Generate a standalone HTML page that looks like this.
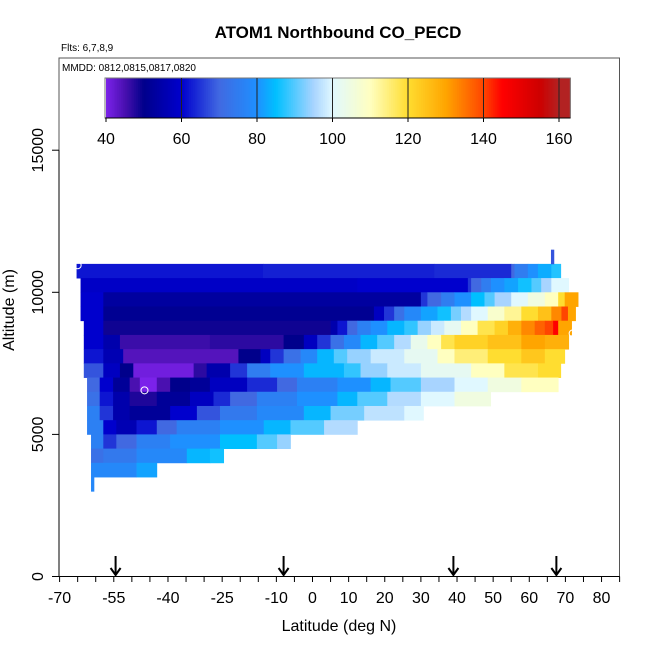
<!DOCTYPE html>
<html><head><meta charset="utf-8"><style>
body{margin:0;background:#fff;}
svg{display:block;font-family:"Liberation Sans",Arial,sans-serif;}
</style></head><body>
<svg id="chart" width="650" height="650" viewBox="0 0 650 650" xmlns="http://www.w3.org/2000/svg">
<rect width="650" height="650" fill="#fff"/>
<text x="338" y="38" text-anchor="middle" font-size="17" font-weight="bold">ATOM1 Northbound CO_PECD</text>
<text x="61" y="51" font-size="10">Flts: 6,7,8,9</text>
<g id="cells"></g>
<g id="pts"></g>
<rect x="59" y="58" width="560.5" height="518.5" fill="none" stroke="#555" stroke-width="1"/>
<text x="62" y="71" font-size="10">MMDD: 0812,0815,0817,0820</text>
<g id="cbar"></g>
<g id="axes"></g>
<text x="339" y="631" text-anchor="middle" font-size="16">Latitude (deg N)</text>
<text transform="translate(14,310) rotate(-90)" text-anchor="middle" font-size="16">Altitude (m)</text>
</svg>
<script>
// ---- data ----
const rowTops = [11000,10500,10000,9500,9000,8500,8000,7500,7000,6500,6000,5500,5000,4500,4000,3500,11500];
const rowBreaks = [
 [-65.3,-13.7,33.7,55.0,55.9,59.6,62.4,66.1,68.7],
 [-64.2,12.4,43.0,43.9,46.7,49.4,53.1,56.9,60.6,63.3,66.1,70.9],
 [-64.2,-57.9,30.0,31.8,35.6,39.3,43.9,47.6,50.4,55.0,59.6,64.3,68.0,69.8,73.5],
 [-64.2,-57.9,17.0,19.8,22.6,25.4,30.0,34.6,38.3,41.1,43.9,48.5,53.1,57.8,62.4,66.1,68.9,70.7,72.8],
 [-63.3,-57.9,5.0,6.9,9.6,12.4,16.1,20.7,25.4,29.1,32.8,36.5,41.1,45.7,50.4,54.1,57.8,61.5,64.3,66.6,68.0,71.7],
 [-63.3,-57.9,-53.3,-28.4,-8.0,-2.4,1.3,5.0,8.7,13.3,17.9,22.6,27.2,31.8,35.6,39.3,48.5,57.8,64.3,70.9],
 [-63.3,-57.9,-52.4,-20.5,-14.4,-11.7,-8.0,-3.3,1.3,5.9,9.6,16.1,25.4,34.6,39.3,48.5,57.8,64.3,69.8],
 [-63.3,-57.9,-53.3,-49.6,-32.9,-29.3,-22.8,-18.1,-11.7,-2.4,8.7,13.3,20.7,30.0,43.9,53.1,62.4,68.7],
 [-62.4,-58.9,-55.2,-50.6,-47.8,-43.1,-39.4,-33.9,-28.4,-18.1,-9.8,-4.3,6.9,16.1,21.6,30.0,39.3,48.5,57.8,68.0],
 [-62.4,-58.9,-55.2,-50.6,-43.1,-33.9,-27.4,-22.8,-15.4,-4.3,6.9,12.4,20.7,30.0,39.3,49.3],
 [-62.4,-58.9,-55.2,-50.6,-39.4,-32.0,-25.6,-15.4,-2.4,5.0,14.3,25.4,30.7],
 [-62.4,-57.9,-54.3,-48.7,-43.1,-37.6,-25.6,-13.5,-6.1,3.2,12.4],
 [-61.3,-57.9,-54.3,-48.7,-39.4,-25.6,-15.4,-9.8,-6.1],
 [-61.3,-57.9,-48.7,-34.8,-28.4,-24.6],
 [-61.3,-48.7,-43.1],
 [-61.3,-60.5],
 [66.0,66.8]
];
const rowVals = [
 [62,63,64,70,75,80,83,87],
 [59,60,65,70,75,80,82,86,90,95,100],
 [60,53,65,70,75,80,85,90,95,100,105,110,120,130],
 [60,51,58,65,72,78,82,86,92,96,100,108,113,120,125,133,140,130],
 [60,49,55,62,70,76,80,84,88,94,98,102,110,118,122,128,133,137,140,145,130],
 [60,55,46,47,50,58,65,72,78,84,90,96,103,110,118,122,125,130,128],
 [62,56,44,50,58,65,72,78,84,90,94,98,102,110,115,120,124,120],
 [68,58,50,41,47,55,65,75,80,84,88,94,98,102,110,118,120],
 [70,60,52,45,40,45,50,52,58,64,70,76,80,84,90,95,100,105,110],
 [72,62,55,48,52,58,64,70,76,80,84,90,96,100,105],
 [76,65,55,52,60,68,74,78,84,92,97,100],
 [76,60,56,62,70,76,80,84,90,96],
 [76,65,70,76,80,85,90,94],
 [72,74,78,84,86],
 [78,82],
 [78],
 [68]
];
const ptLat = [-46.5, 72.0, 71.5, 76.5, -65.0];
const ptAlt = [6550, 8550, 6850, 9850, 10950];
const ptVal = [42, 150, 112, 130, 60];
const xTicks = [-70,-55,-40,-25,-10,0,10,20,30,40,50,60,70,80];
const yTicks = [0,5000,10000,15000];
const cbTicks = [40,60,80,100,120,140,160];
const arrowLats = [-54.5,-8.0,39.0,67.5];
// colormap stops (value, color)
const cmapV = [40,45,50,60,70,80,85,95,100,110,120,130,140,145,155,160,163];
const cmapC = ["#7b22ea","#4a10b0","#00008b","#0000cd","#4169e1","#1e90ff","#00bfff","#a8d4ff","#e0f8ff","#ffffc0","#ffdd30","#ffa500","#ff4500","#ff0000","#cd0000","#b22222","#b22222"];

// ---- scales ----
const X = lat => 312.5 + 3.613*lat;
const Y = alt => 576.5 - alt*0.02842;
function hex(c){return [1,3,5].map(i=>parseInt(c.substr(i,2),16));}
function color(v){
  if(v<=cmapV[0]) return cmapC[0];
  for(let i=1;i<cmapV.length;i++){
    if(v<=cmapV[i]){const t=(v-cmapV[i-1])/(cmapV[i]-cmapV[i-1]);
      const a=hex(cmapC[i-1]),b=hex(cmapC[i]);
      return "rgb("+a.map((x,k)=>Math.round(x+(b[k]-x)*t)).join(",")+")";}
  }
  return cmapC[cmapC.length-1];
}
const NS="http://www.w3.org/2000/svg";
function mk(tag,attrs,parent){const e=document.createElementNS(NS,tag);for(const k in attrs)e.setAttribute(k,attrs[k]);parent.appendChild(e);return e;}

// heatmap
const cells=document.getElementById('cells');
rowTops.forEach((top,r)=>{
  const br=rowBreaks[r], vs=rowVals[r];
  for(let i=0;i<vs.length;i++){
    const x0=X(br[i]),x1=X(br[i+1]);
    const e=mk('rect',{x:x0.toFixed(2),y:Y(top).toFixed(2),width:(x1-x0+0.4).toFixed(2),height:(Y(top-500)-Y(top)+0.4).toFixed(2),fill:color(vs[i])},cells);
    
    
  }
});
const pts=document.getElementById('pts');
ptLat.forEach((l,i)=>{
  const c=mk('circle',{cx:X(l),cy:Y(ptAlt[i]),r:3.5,fill:"none",stroke:"#fff","stroke-width":1},pts);
  
  
});

// colorbar
const cb=document.getElementById('cbar');
const CX=v=>106+(v-40)*3.775;
for(let v=40;v<163;v+=0.5){
  const e=mk('rect',{x:CX(v).toFixed(2),y:78,width:2.3,height:40,fill:color(v+0.25)},cb);
  
  
}
mk('rect',{x:105,y:78,width:CX(163)-105,height:40,fill:"none",stroke:"#777","stroke-width":1},cb);
mk('line',{x1:105,y1:118,x2:CX(163),y2:118,stroke:"#000","stroke-width":1},cb);
cbTicks.forEach(v=>{
  if(v>40) mk('line',{x1:CX(v),y1:78,x2:CX(v),y2:118,stroke:"#222","stroke-width":1},cb);
  mk('line',{x1:CX(v),y1:118,x2:CX(v),y2:122,stroke:"#000","stroke-width":1},cb);
  const t=mk('text',{x:CX(v),y:144,"text-anchor":"middle","font-size":16},cb);
  t.textContent=v;
  
  
});

// axes
const ax=document.getElementById('axes');
for(let l=-70;l<=85;l+=5) mk('line',{x1:X(l),y1:576.5,x2:X(l),y2:582,stroke:"#000","stroke-width":1},ax);
mk('line',{x1:X(-70),y1:576.5,x2:X(85),y2:576.5,stroke:"#000","stroke-width":1},ax);
xTicks.forEach(l=>{
  const t=mk('text',{x:X(l),y:603,"text-anchor":"middle","font-size":16},ax);
  t.textContent=l;
  
  
});
mk('line',{x1:59,y1:Y(0),x2:59,y2:Y(15000),stroke:"#000","stroke-width":1},ax);
yTicks.forEach(a=>{
  mk('line',{x1:52,y1:Y(a),x2:59,y2:Y(a),stroke:"#000","stroke-width":1},ax);
  const t=mk('text',{transform:"translate(43,"+Y(a)+") rotate(-90)","text-anchor":"middle","font-size":16},ax);
  t.textContent=a;
  
  
});
arrowLats.forEach(l=>{
  const g=mk('g',{},ax);
  
  
  mk('line',{x1:X(l),y1:556,x2:X(l),y2:575,stroke:"#000","stroke-width":2},g);
  mk('polyline',{points:(X(l)-5)+",568 "+X(l)+",575 "+(X(l)+5)+",568",fill:"none",stroke:"#000","stroke-width":2},g);
});
</script>
</body></html>
